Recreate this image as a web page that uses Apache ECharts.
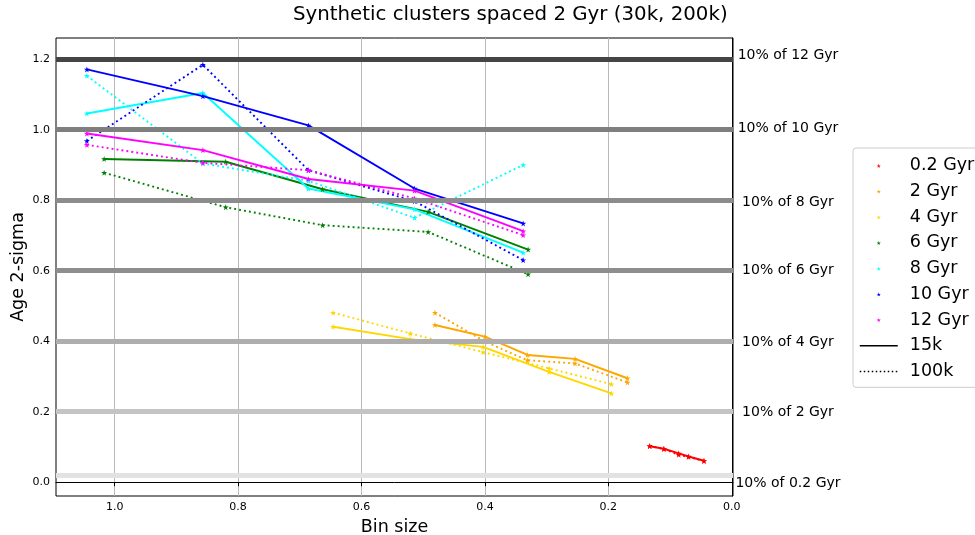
<!DOCTYPE html>
<html>
<head>
<meta charset="utf-8">
<script src="https://cdn.jsdelivr.net/npm/echarts@6/dist/echarts.min.js"></script>
<style>
  html, body { margin: 0; padding: 0; background: #fff; }
  #chart { width: 975px; height: 535px; }
</style>
</head>
<body>
<div id="chart"></div>
<script>
// Age uncertainty (2-sigma) against bin size for synthetic clusters
const ages = ['0.2 Gyr', '2 Gyr', '4 Gyr', '6 Gyr', '8 Gyr', '10 Gyr', '12 Gyr'];
const ageColors = ['#ff0000', '#ffa500', '#ffd700', '#008000', '#00ffff', '#0000ff', '#ff00ff'];

// bin sizes per age
const bins02 = [0.133, 0.110, 0.086, 0.070, 0.045];
const bins2 = [0.481, 0.400, 0.331, 0.254, 0.169];
const bins4 = [0.646, 0.521, 0.403, 0.296, 0.195];
const bins6 = [1.017, 0.820, 0.663, 0.492, 0.330];
const bins8 = [1.045, 0.857, 0.686, 0.514, 0.338];
const bins10 = [1.045, 0.857, 0.686, 0.514, 0.338];
const bins12 = [1.045, 0.857, 0.686, 0.514, 0.338];

// 15k sample (solid)
const sig15k02 = [0.102, 0.095, 0.082, 0.073, 0.061];
const sig15k2 = [0.446, 0.413, 0.361, 0.350, 0.295];
const sig15k4 = [0.441, 0.406, 0.384, 0.313, 0.252];
const sig15k6 = [0.917, 0.909, 0.831, 0.767, 0.660];
const sig15k8 = [1.046, 1.104, 0.833, 0.774, 0.651];
const sig15k10 = [1.171, 1.095, 1.012, 0.833, 0.734];
const sig15k12 = [0.989, 0.942, 0.860, 0.827, 0.712];

// 100k sample (dotted)
const sig100k02 = [0.103, 0.094, 0.078, 0.072, 0.060];
const sig100k2 = [0.481, 0.399, 0.346, 0.337, 0.283];
const sig100k4 = [0.481, 0.422, 0.369, 0.323, 0.278];
const sig100k6 = [0.878, 0.780, 0.729, 0.710, 0.590];
const sig100k8 = [1.153, 0.904, 0.855, 0.750, 0.900];
const sig100k10 = [0.968, 1.184, 0.885, 0.797, 0.630];
const sig100k12 = [0.957, 0.906, 0.885, 0.805, 0.701];

// reference levels: 10% of each age
const refLevels = [1.2, 1.0, 0.8, 0.6, 0.4, 0.2, 0.02];
const refLabels = ['10% of 12 Gyr', '10% of 10 Gyr', '10% of 8 Gyr', '10% of 6 Gyr', '10% of 4 Gyr', '10% of 2 Gyr', '10% of 0.2 Gyr'];
const refColors = ['#454545', '#7f7f7f', '#8c8c8c', '#8e8e8e', '#aeaeae', '#c4c4c4', '#e2e2e2'];
const refLabelShift = [-4, -1, 2, 0, 1, 1, 8];

const xTicks = [0, 0.2, 0.4, 0.6, 0.8, 1.0];
const yTicks = [0, 0.2, 0.4, 0.6, 0.8, 1.0, 1.2];

const binsAll = [bins02, bins2, bins4, bins6, bins8, bins10, bins12];
const solidAll = [sig15k02, sig15k2, sig15k4, sig15k6, sig15k8, sig15k10, sig15k12];
const dottedAll = [sig100k02, sig100k2, sig100k4, sig100k6, sig100k8, sig100k10, sig100k12];

const STAR = 'path://M0,-1 L0.225,-0.309 L0.951,-0.309 L0.363,0.118 L0.588,0.809 L0,0.382 L-0.588,0.809 L-0.363,0.118 L-0.951,-0.309 L-0.225,-0.309 Z';
const FONT = 'DejaVu Sans';
const LW = 1.9;
const DOT = [1.9, 3.1];

const series = [];

// horizontal reference bands with labels on the right
series.push({
  type: 'line',
  data: [],
  silent: true,
  z: 1,
  markLine: {
    silent: true,
    symbol: 'none',
    animation: false,
    data: refLevels.map((v, i) => ({
      yAxis: v,
      lineStyle: { color: refColors[i], width: 5, type: 'solid' },
      label: {
        show: true,
        position: 'start',
        formatter: refLabels[i],
        fontFamily: FONT,
        fontSize: 14,
        color: '#000',
        align: 'center',
        distance: 0,
        offset: [55, refLabelShift[i]]
      }
    }))
  }
});

for (let a = 0; a < ages.length; a++) {
  const pts15 = binsAll[a].map((b, i) => [b, solidAll[a][i]]);
  const pts100 = binsAll[a].map((b, i) => [b, dottedAll[a][i]]);
  series.push({
    name: ages[a],
    type: 'line',
    data: pts15,
    z: 3,
    symbol: STAR,
    symbolSize: 6,
    itemStyle: { color: ageColors[a] },
    lineStyle: { color: ageColors[a], width: LW, type: 'solid' }
  });
  series.push({
    name: ages[a],
    type: 'line',
    data: pts100,
    z: 3,
    symbol: STAR,
    symbolSize: 6,
    itemStyle: { color: ageColors[a] },
    lineStyle: { color: ageColors[a], width: LW, type: DOT }
  });
}

// line-style keys for the legend
series.push({ name: '15k', type: 'line', data: [], symbol: 'none', showSymbol: false, itemStyle: { color: '#000' }, lineStyle: { color: '#000', width: 1.5, type: 'solid' } });
series.push({ name: '100k', type: 'line', data: [], symbol: 'none', showSymbol: false, itemStyle: { color: '#000' }, lineStyle: { color: '#000', width: 1.5, type: [1.5, 2.5] } });

const legendData = ages.map((n, i) => ({ name: n, icon: STAR, itemStyle: { color: ageColors[i] } }))
  .concat([
    { name: '15k', itemStyle: { opacity: 0 }, lineStyle: { color: '#000', width: 1.5, type: 'solid', opacity: 1 } },
    { name: '100k', itemStyle: { opacity: 0 }, lineStyle: { color: '#000', width: 1.5, type: [1.5, 2.5], opacity: 1 } }
  ]);

const chart = echarts.init(document.getElementById('chart'), null, { renderer: 'canvas' });
chart.setOption({
  animation: false,
  backgroundColor: '#fff',
  textStyle: { fontFamily: FONT },
  title: {
    text: 'Synthetic clusters spaced 2 Gyr (30k, 200k)',
    left: 293,
    top: 5,
    padding: 0,
    textStyle: { fontFamily: FONT, fontSize: 19.8, fontWeight: 'normal', color: '#000' }
  },
  grid: {
    left: 56, right: 242, top: 38, bottom: 39,
    outerBoundsMode: 'none',
    containLabel: false,
    show: true, borderColor: '#000', borderWidth: 1, backgroundColor: 'transparent'
  },
  legend: {
    orient: 'vertical',
    left: 853,
    top: 148,
    padding: [5, 20, 3, 6],
    itemWidth: 38,
    itemHeight: 4,
    itemGap: 0,
    borderColor: '#cccccc',
    borderWidth: 1,
    borderRadius: 3,
    selectedMode: false,
    textStyle: { fontFamily: FONT, fontSize: 17.5, color: '#000', lineHeight: 25.7, padding: [0, 0, 0, 7] },
    data: legendData
  },
  xAxis: {
    type: 'value',
    inverse: true,
    min: -0.002,
    max: 1.095,
    name: 'Bin size',
    nameLocation: 'middle',
    nameGap: 22,
    nameMoveOverlap: false,
    nameTextStyle: { fontFamily: FONT, fontSize: 17.5, color: '#000', verticalAlign: 'top' },
    axisLine: { show: true, lineStyle: { color: '#000', width: 1 } },
    axisTick: { show: true, length: 4, customValues: xTicks, lineStyle: { color: '#000' } },
    axisLabel: { customValues: xTicks, fontSize: 11, color: '#000', margin: 6, formatter: v => v.toFixed(1) },
    splitLine: { show: true, lineStyle: { color: '#b8b8b8', width: 1 } }
  },
  yAxis: {
    type: 'value',
    min: -0.039,
    max: 1.26,
    name: 'Age 2-sigma',
    nameLocation: 'middle',
    nameGap: 29,
    nameMoveOverlap: false,
    nameTextStyle: { fontFamily: FONT, fontSize: 17.5, color: '#000' },
    axisLine: { show: true, lineStyle: { color: '#000', width: 1 } },
    axisTick: { show: true, length: 4, customValues: yTicks, lineStyle: { color: '#000' } },
    axisLabel: { customValues: yTicks, fontSize: 11, color: '#000', margin: 6, formatter: v => v.toFixed(1) },
    splitLine: { show: true, lineStyle: { color: '#cccccc', width: 1 } }
  },
  series: series
});
</script>
</body>
</html>
